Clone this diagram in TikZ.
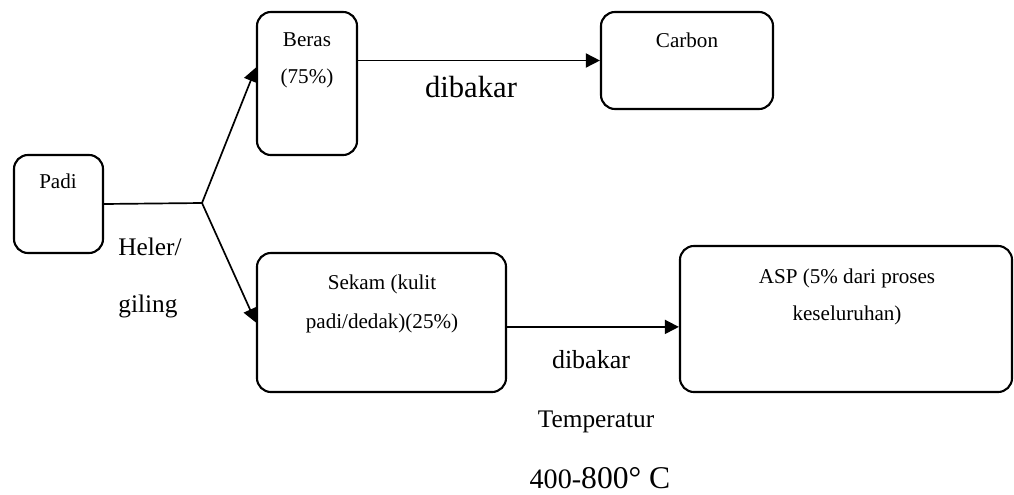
\documentclass[tikz,border=0pt]{standalone}
\usepackage{fontspec}
\setmainfont{Liberation Serif}
\usetikzlibrary{arrows.meta}

\begin{document}
\begin{tikzpicture}[x=0.025cm, y=-0.025cm,
    box/.style={draw, line width=1.5pt, rounded corners=10pt, inner sep=0pt},
    arr/.style={line width=1.2pt, -{Triangle[length=10pt, width=10pt]}},
    small/.style={anchor=base, font=\fontsize{15}{18}\selectfont},
    big/.style={anchor=base, font=\fontsize{18}{22}\selectfont}]

    % Fix the page size
    \useasboundingbox (0,0) rectangle (1014,494);

    % Boxes
    \node[box, minimum width=2.225cm, minimum height=2.45cm] (padi) at (58.5,204) {};
    \node[box, minimum width=2.5cm, minimum height=3.575cm] (beras) at (307,83.5) {};
    \node[box, minimum width=4.3cm, minimum height=2.425cm] (carbon) at (687,60.5) {};
    \node[box, minimum width=6.225cm, minimum height=3.475cm] (sekam) at (381.5,322.5) {};
    \node[box, minimum width=8.3cm, minimum height=3.65cm] (asp) at (846,319) {};

    % Texts in the boxes
    \node[small] (padiText) at (58,188) {Padi};
    \node[small] (berasText) at (307,46) {Beras};
    \node[small] (berasPct) at (307,83) {(75\%)};
    \node[small] (carbonText) at (687,47) {Carbon};
    \node[small] (sekamText) at (382,289) {Sekam (kulit};
    \node[small] (sekamPct) at (382,328) {padi/dedak)(25\%)};
    \node[small] (aspText) at (847,283) {ASP (5\% dari proses};
    \node[small] (aspRest) at (847,320) {keseluruhan)};

    % Connectors
    \coordinate (split) at (202,203);
    \draw[line width=1.2pt] (padi.east) -- (split);
    \draw[arr] (split) -- ([yshift=4mm]beras.west);
    \draw[arr] (split) -- (sekam.west);
    \draw[arr] (beras.east |- carbon.west) -- (carbon.west);
    \draw[arr] ([yshift=-1.1mm]sekam.east) -- ([yshift=-1.1mm]sekam.east -| asp.west);

    % Process labels
    \node[big] (heler) at (150,255) {Heler/};
    \node[big] (giling) at (148,312) {giling};
    \node[anchor=base, font=\fontsize{21.8}{26}\selectfont] (bakarTop) at (471,97) {dibakar};
    \node[big, font=\fontsize{18.5}{22}\selectfont] (bakarLow) at (591,368) {dibakar};
    \node[big] (temp) at (596,427) {Temperatur};
    \node[anchor=base] (range) at (600,488)
        {{\fontsize{20}{24}\selectfont 400-}{\fontsize{22.5}{27}\selectfont 800° C}};

\end{tikzpicture}
\end{document}
